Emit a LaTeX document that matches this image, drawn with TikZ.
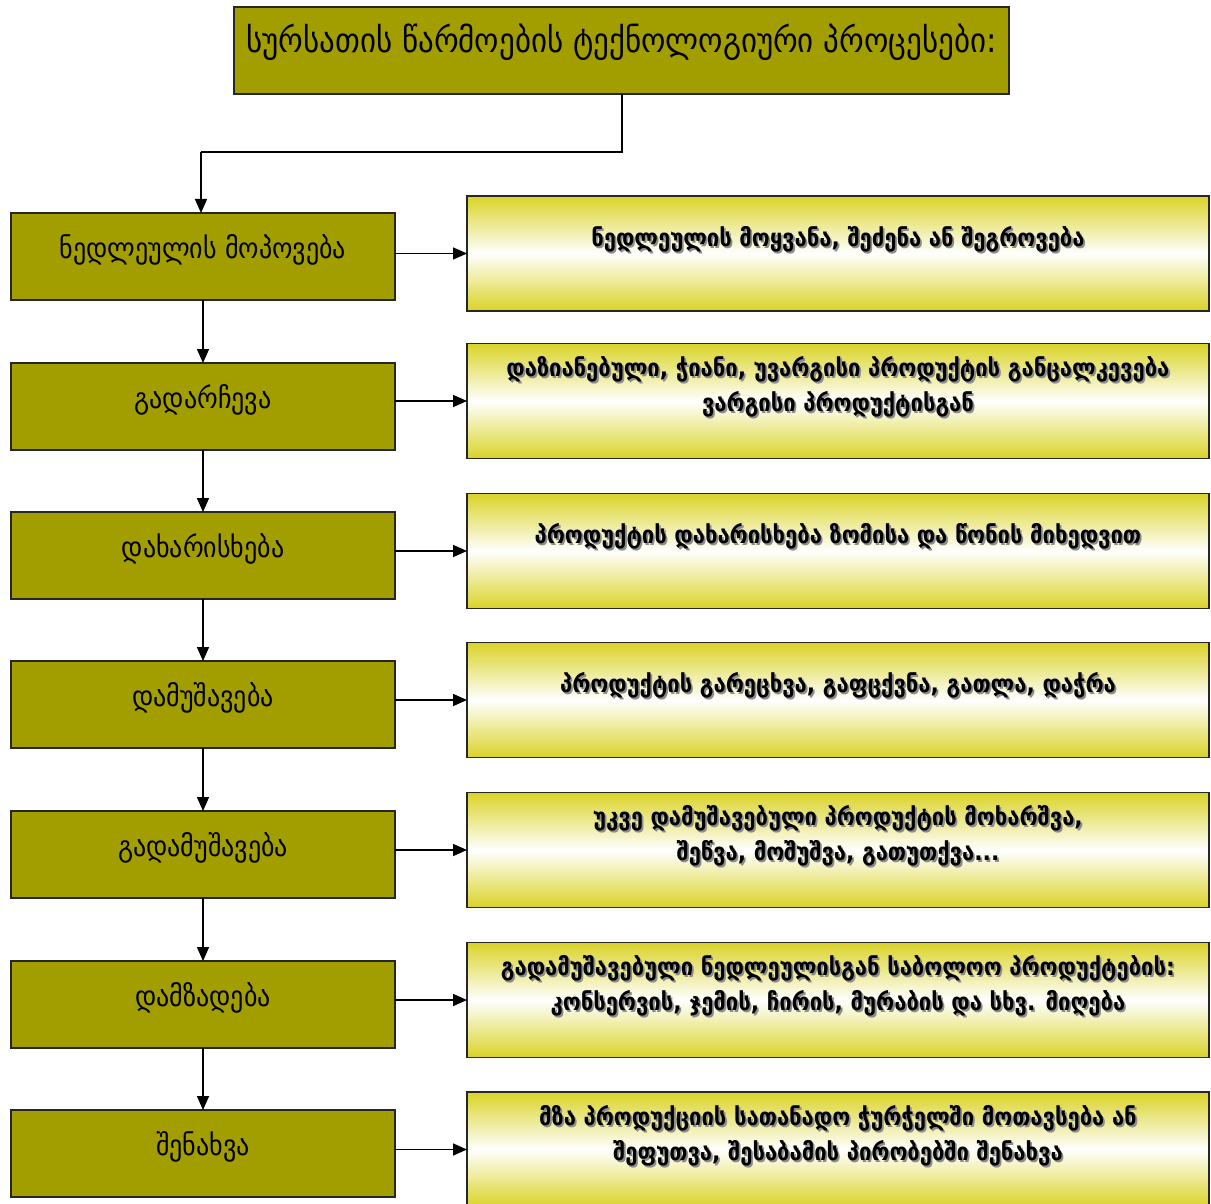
\documentclass[tikz,border=0pt]{standalone}
\usepackage{graphicx}
\usepackage{fontspec}
\setmainfont{DejaVu Sans}
\usetikzlibrary{arrows.meta}
\definecolor{olivebox}{RGB}{162,158,0}
\definecolor{ylw}{RGB}{218,211,40}
\newcommand\shd[1]{\leavevmode\rlap{\kern1.8pt\raisebox{-1.8pt}{\textcolor{black!45}{\scalebox{1}[1.1]{#1}}}}\scalebox{1}[1.1]{#1}}
\newcommand\tall[1]{\scalebox{1}[1.1]{#1}}
\begin{document}
\begin{tikzpicture}[x=1pt,y=-1pt,
  every node/.style={inner sep=0pt, outer sep=0pt},
  stepbox/.style={draw=black!85, line width=1.6pt, fill=olivebox, minimum width=384pt, minimum height=87pt},
  titlebox/.style={draw=black!85, line width=1.6pt, fill=olivebox, minimum width=775pt, minimum height=87pt},
  descbox/.style={draw=black!85, line width=1.6pt, top color=ylw, bottom color=ylw, middle color=white, shading angle=0, minimum width=742pt, minimum height=115pt},
  steptext/.style={font=\fontsize{26}{30}\selectfont},
  titletext/.style={font=\fontsize{31}{36}\selectfont},
  desctext/.style={font=\bfseries\fontsize{22}{35}\selectfont, align=center},
  conn/.style={line width=1.6pt, -{Triangle[length=14pt,width=12pt]}},
  plain/.style={line width=1.6pt}
]
\useasboundingbox (0,0) rectangle (1211,1204);

% title
\node[titlebox] (T) at (621.5,50.5) {};
\node[titletext] (Tt) at (621.5,42) {\tall{სურსათის წარმოების ტექნოლოგიური პროცესები:}};

% left steps
\foreach \i/\y/\t in {1/256.5/ნედლეულის მოპოვება, 2/406.5/გადარჩევა, 3/555.5/დახარისხება, 4/704.5/დამუშავება, 5/854.5/გადამუშავება, 6/1004.5/დამზადება, 7/1153.5/შენახვა}{
  \node[stepbox] (L\i) at (203,\y) {};
  \node[steptext] (L\i t) at (203,\y-7) {\tall{\t}};
}

% right descriptions
\node[descbox] (R1) at (838,253.5) {};
\node[desctext] (R1t) at (838,240) {\shd{ნედლეულის მოყვანა, შეძენა ან შეგროვება}};
\node[descbox] (R2) at (838,401) {};
\node[desctext] (R2t) at (838,388) {\shd{დაზიანებული, ჭიანი, უვარგისი პროდუქტის განცალკევება}\\\shd{ვარგისი პროდუქტისგან}};
\node[descbox] (R3) at (838,551) {};
\node[desctext] (R3t) at (838,537) {\shd{პროდუქტის დახარისხება ზომისა და წონის მიხედვით}};
\node[descbox] (R4) at (838,700) {};
\node[desctext] (R4t) at (838,686) {\shd{პროდუქტის გარეცხვა, გაფცქვნა, გათლა, დაჭრა}};
\node[descbox] (R5) at (838,850) {};
\node[desctext] (R5t) at (838,837) {\shd{უკვე დამუშავებული პროდუქტის მოხარშვა,}\\\shd{შეწვა, მოშუშვა, გათუთქვა...}};
\node[descbox] (R6) at (838,1000) {};
\node[desctext] (R6t) at (838,987) {\shd{გადამუშავებული ნედლეულისგან საბოლოო პროდუქტების:}\\\shd{კონსერვის, ჯემის, ჩირის, მურაბის და სხვ. მიღება}};
\node[descbox] (R7) at (838,1149.5) {};
\node[desctext] (R7t) at (838,1137) {\shd{მზა პროდუქციის სათანადო ჭურჭელში მოთავსება ან}\\\shd{შეფუთვა, შესაბამის პირობებში შენახვა}};

% connectors
\coordinate (c1) at (622,152);
\coordinate (c2) at (201,152);
\draw[plain] (T.south -| c1) -- (c1) -- (c2);
\draw[conn] (c2) -- (c2 |- L1.north);
\foreach \a/\b in {1/2,2/3,3/4,4/5,5/6,6/7}{
  \draw[conn] (L\a.south) -- (L\b.north);
}
\foreach \i in {1,...,7}{
  \draw[conn] (L\i.east |- R\i.west) -- (R\i.west);
}
\end{tikzpicture}
\end{document}
